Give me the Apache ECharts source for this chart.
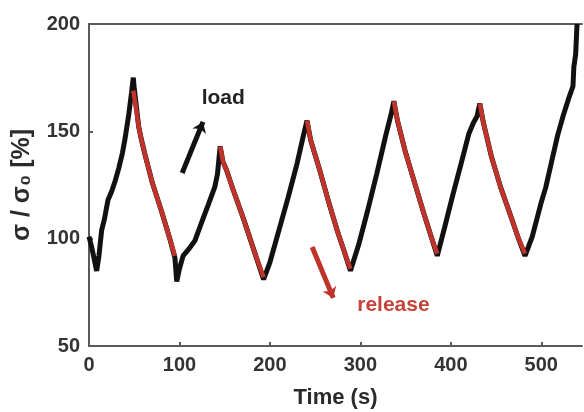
<!DOCTYPE html>
<html>
<head>
<meta charset="utf-8">
<script src="https://cdn.jsdelivr.net/npm/echarts@6/dist/echarts.min.js"></script>
<style>
html,body{margin:0;padding:0;background:#fff;}
#chart{width:584px;height:412px;}
</style>
</head>
<body>
<div id="chart"></div>
<script>
// Full stress curve (black, load + underlying trace): [time s, sigma/sigma0 %]
var curveTime = [0,3,6,8.5,11,14,17,21,25,29,33,37,40,44,47,49,
  50,55,58,62,70,80,90,95,97,
  100,104,110,117,124,132,139,142,145,
  148,152,160,171,182,193,
  200,210,220,230,237,241,
  245,255,265,275,283,289,
  298,308,318,328,334,337,
  341,350,360,370,379,385,
  393,402,412,420,425,429,432,
  436,445,455,465,474,482,
  490,500,505,512,518,524,530,535,536,538,539.5];
var curveValue = [101,96,90,85,92,104,109,118,122,127,133,140,147,158,168,175,
  170,152,146,139,126,113,99,91,80,
  86,92,95,99,107,116,124,130,143,
  136,132,122,109,95,81,
  89,104,119,135,148,155,
  146,132,117,103,93,85,
  97,113,130,148,158,164,
  155,140,126,112,100,92,
  105,120,136,149,154,157,163,
  154,138,124,112,101,92,
  101,117,124,137,148,157,165,171,180,186,200];

// Release segments (red), separated by gaps
var releaseTime = [49,55,58,62,70,80,90,95, null,
  145,148,152,160,171,182,193, null,
  241,245,255,265,275,283,289, null,
  337,341,350,360,370,379,385, null,
  432,436,445,455,465,474,482];
var releaseValue = [169,152,146,139,126,113,99,92, null,
  143,136,132,122,109,95,82, null,
  155,146,132,117,103,93,86, null,
  164,155,140,126,112,100,93, null,
  163,154,138,124,112,101,93];

// Annotation arrows and text anchors (data coordinates)
var loadArrow = [[103,130.6],[126,154.4]];
var releaseArrow = [[246.7,96.1],[270,72.4]];
var loadLabelAt = [124,165.5];
var releaseLabelAt = [296,69];

var xTicks = [0,100,200,300,400,500];
var yTicks = [50,100,150,200];

var blackData = curveTime.map(function(t,i){return [t,curveValue[i]];});
var redData = releaseTime.map(function(t,i){return t===null ? [null,null] : [t,releaseValue[i]];});

var RED = '#c0332a';
var AXIS = '#5a5a5a';
var chart = echarts.init(document.getElementById('chart'), null, {renderer:'canvas'});
var font = 'Liberation Sans, Arial, sans-serif';
chart.setOption({
  animation:false,
  backgroundColor:'#ffffff',
  grid:{left:89, top:24, right:2, bottom:66, containLabel:false, outerBoundsMode:'none'},
  xAxis:[{
    type:'value', min:0, max:545, interval:100,
    name:'Time (s)', nameLocation:'middle', nameGap:41,
    nameTextStyle:{fontFamily:font, fontWeight:'bold', fontSize:22, color:'#2a2a2a'},
    axisLine:{show:true, onZero:false, lineStyle:{color:AXIS, width:2}},
    axisTick:{show:true, inside:true, length:4, lineStyle:{color:AXIS, width:2}},
    axisLabel:{fontFamily:font, fontWeight:'bold', fontSize:20, color:'#333', margin:9, showMaxLabel:false,
      formatter:function(v){return xTicks.indexOf(v)>=0 ? String(v) : '';}},
    splitLine:{show:false}
  },{
    type:'value', position:'top', min:0, max:545,
    axisLine:{show:true, lineStyle:{color:AXIS, width:2}},
    axisTick:{show:false}, axisLabel:{show:false}, splitLine:{show:false}
  }],
  yAxis:{
    type:'value', min:50, max:200, interval:50,
    name:'\u03c3 / \u03c3\u2080 [%]', nameLocation:'middle', nameGap:54, nameRotate:90,
    nameTextStyle:{fontFamily:font, fontWeight:'bold', fontSize:25, color:'#2a2a2a'},
    axisLine:{show:true, onZero:false, lineStyle:{color:AXIS, width:2}},
    axisTick:{show:true, inside:true, length:4, lineStyle:{color:AXIS, width:2}},
    axisLabel:{fontFamily:font, fontWeight:'bold', fontSize:20, color:'#333', margin:9,
      formatter:function(v){return yTicks.indexOf(v)>=0 ? String(v) : '';}},
    splitLine:{show:false}
  },
  series:[{
    type:'line', data:blackData, showSymbol:false, symbol:'none',
    lineStyle:{color:'#111', width:5}, z:2, silent:true,
    markLine:{
      silent:true, symbol:['none','arrow'], symbolSize:[11,10],
      lineStyle:{color:'#111', width:5, type:'solid'},
      label:{show:false},
      data:[[{coord:loadArrow[0]},{coord:loadArrow[1]}]]
    },
    markPoint:{
      silent:true, symbol:'circle', symbolSize:1, itemStyle:{color:'rgba(0,0,0,0)'},
      label:{show:true, position:'right', distance:0, fontFamily:font, fontWeight:'bold', fontSize:21, color:'#222'},
      data:[{coord:loadLabelAt, value:'load', label:{formatter:'load'}}]
    }
  },{
    type:'line', data:redData, showSymbol:false, symbol:'none', connectNulls:false,
    lineStyle:{color:RED, width:4.5}, z:3, silent:true,
    markLine:{
      silent:true, symbol:['none','arrow'], symbolSize:[11,10],
      lineStyle:{color:RED, width:5, type:'solid'},
      label:{show:false},
      data:[[{coord:releaseArrow[0]},{coord:releaseArrow[1]}]]
    },
    markPoint:{
      silent:true, symbol:'circle', symbolSize:1, itemStyle:{color:'rgba(0,0,0,0)'},
      label:{show:true, position:'right', distance:0, fontFamily:font, fontWeight:'bold', fontSize:21, color:'#c4443a'},
      data:[{coord:releaseLabelAt, value:'release', label:{formatter:'release'}}]
    }
  }]
});
</script>
</body>
</html>
